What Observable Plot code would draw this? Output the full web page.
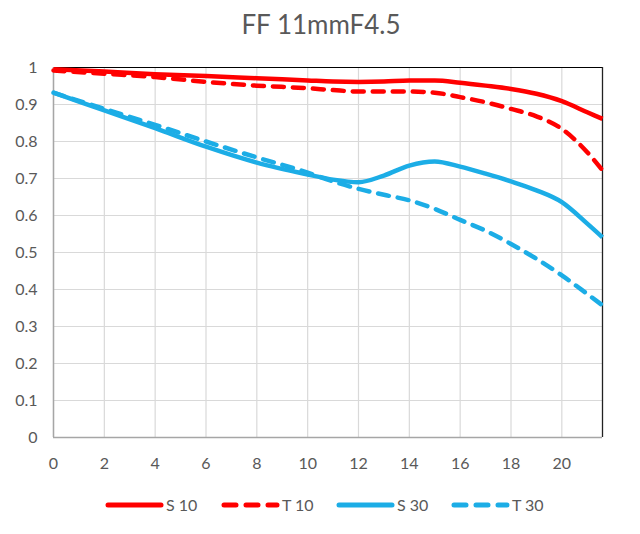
<!DOCTYPE html>
<html>
<head>
<meta charset="utf-8">
<script src="https://cdn.jsdelivr.net/npm/d3@7"></script>
<script src="https://cdn.jsdelivr.net/npm/@observablehq/plot@0.6"></script>
<style>
  html, body { margin: 0; padding: 0; background: #fff; }
  body { width: 640px; font-family: Lato, "Open Sans", sans-serif; }
  #title { height: 48px; line-height: 48px; text-align: center; font-size: 26px; color: #595959; padding-left: 2px; }
  #chart svg { display: block; }
  #legend svg { display: block; }
</style>
</head>
<body>
<div id="title">FF 11mmF4.5</div>
<div id="chart"></div>
<div id="legend"></div>
<script>
const xs = [0, 2, 4, 6, 8, 10, 11, 12, 13, 14, 15, 16, 17, 18, 19, 20, 21, 21.6];
const s10 = [0.995, 0.989, 0.982, 0.977, 0.971, 0.965, 0.962, 0.961, 0.962, 0.965, 0.965, 0.959, 0.951, 0.942, 0.929, 0.909, 0.879, 0.861];
const t10 = [0.992, 0.983, 0.974, 0.961, 0.951, 0.944, 0.939, 0.935, 0.935, 0.935, 0.932, 0.920, 0.906, 0.888, 0.868, 0.834, 0.771, 0.722];
const s30 = [0.932, 0.884, 0.836, 0.786, 0.743, 0.711, 0.697, 0.690, 0.708, 0.735, 0.746, 0.732, 0.713, 0.692, 0.668, 0.636, 0.578, 0.541];
const t30 = [0.932, 0.888, 0.845, 0.800, 0.757, 0.716, 0.692, 0.672, 0.656, 0.641, 0.618, 0.588, 0.559, 0.523, 0.483, 0.438, 0.388, 0.357];
const seriesNames = ["S 10", "T 10", "S 30", "T 30"];
const xTicks = [0, 2, 4, 6, 8, 10, 12, 14, 16, 18, 20];
const yTicks = [0, 0.1, 0.2, 0.3, 0.4, 0.5, 0.6, 0.7, 0.8, 0.9, 1];

const RED = "#ff0000", BLUE = "#1cade6";
const styles = {
  "S 10": {color: RED, dash: null},
  "T 10": {color: RED, dash: "11,9"},
  "S 30": {color: BLUE, dash: null},
  "T 30": {color: BLUE, dash: "11,9"}
};
const valuesBy = {"S 10": s10, "T 10": t10, "S 30": s30, "T 30": t30};
const rows = name => xs.map((x, i) => ({x, y: valuesBy[name][i], series: name}));

const lineMarks = seriesNames.map(name => Plot.line(rows(name), {
  x: "x", y: "y", stroke: styles[name].color, strokeWidth: 4.5,
  strokeDasharray: styles[name].dash, strokeLinecap: styles[name].dash ? "round" : "butt",
  curve: "monotone-x"
}));
const ordered = [lineMarks[3], lineMarks[2], lineMarks[1], lineMarks[0]];

const chart = Plot.plot({
  width: 640,
  height: 434,
  marginTop: 19,
  marginBottom: 45,
  marginLeft: 53,
  marginRight: 38,
  style: {fontFamily: "Lato, 'Open Sans', sans-serif", fontSize: "16px", color: "#595959", background: "#fff"},
  x: {domain: [0, 21.6]},
  y: {domain: [0, 1]},
  marks: [
    Plot.gridX(xTicks, {stroke: "#d9d9d9", strokeOpacity: 1, strokeWidth: 1.2}),
    Plot.gridY(yTicks, {stroke: "#d9d9d9", strokeOpacity: 1, strokeWidth: 1.2}),
    Plot.ruleY([1], {stroke: "#000", strokeWidth: 1}),
    Plot.ruleX([21.6], {stroke: "#222", strokeWidth: 1.3}),
    Plot.ruleX([0], {stroke: "#a6a6a6", strokeWidth: 1.5}),
    Plot.ruleY([0], {stroke: "#a6a6a6", strokeWidth: 1.5}),
    Plot.axisX(xTicks, {tickSize: 0, tickPadding: 20, label: null, fill: "#595959", fontSize: 16}),
    Plot.axisY(yTicks, {tickSize: 0, tickPadding: 16, label: null, fill: "#595959", fontSize: 16,
      tickFormat: d => String(+d.toFixed(1))}),
    ...ordered
  ]
});
document.getElementById("chart").appendChild(chart);

// legend
const legendPos = [
  {name: "S 10", x1: 106, x2: 163},
  {name: "T 10", x1: 222, x2: 279},
  {name: "S 30", x1: 337, x2: 394},
  {name: "T 30", x1: 452, x2: 509}
];
const lg = d3.select("#legend").append("svg").attr("width", 640).attr("height", 52);
legendPos.forEach(p => {
  const st = styles[p.name];
  lg.append("line").attr("x1", p.x1 + 2).attr("x2", p.x2 - 2).attr("y1", 23).attr("y2", 23)
    .attr("stroke", st.color).attr("stroke-width", 5)
    .attr("stroke-linecap", "round")
    .attr("stroke-dasharray", st.dash ? "12,10" : null);
  lg.append("text").attr("x", p.x2 + 3).attr("y", 23).attr("dy", "0.35em")
    .attr("fill", "#595959").attr("font-size", 16)
    .attr("font-family", "Lato, 'Open Sans', sans-serif")
    .text(p.name);
});
</script>
</body>
</html>
